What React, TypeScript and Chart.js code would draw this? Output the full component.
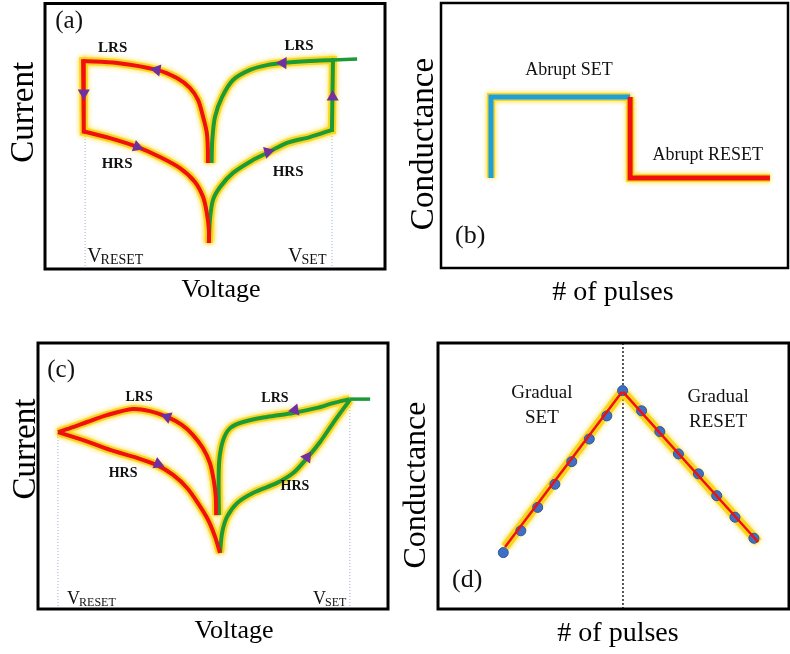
import React, { useEffect, useRef } from "react";
import { Chart, registerables } from "chart.js";

Chart.register(...registerables);

const SERIF = '"Liberation Serif", "Times New Roman", serif';

// ---------- (a) abrupt switching I–V loop (normalised voltage / current) ----------
const aLrsReset = [[47.9, 39.9], [47.9, 44.8], [47.6, 51.2], [46.5, 57.3], [45.0, 63.7], [42.6, 68.2], [38.8, 71.9], [32.9, 75.0], [21.2, 77.6], [11.2, 78.3]];
const aDropReset = [[11.2, 78.3], [11.4, 51.8]];
const aHrsReset = [[11.4, 51.8], [19.1, 49.3], [27.1, 46.0], [33.8, 42.2], [39.7, 38.0], [44.1, 32.8], [46.5, 27.1], [47.6, 21.1], [48.2, 14.7], [48.2, 9.8]];
const aLrsSet = [[49.0, 39.9], [49.2, 48.6], [50.0, 57.3], [52.1, 64.8], [55.3, 71.2], [60.3, 75.0], [65.3, 76.8], [70.0, 77.6], [77.9, 78.3], [84.7, 78.7]];
const aRiseSet = [[84.4, 52.4], [84.7, 78.7]];
const aHrsSet = [[48.2, 9.8], [48.5, 18.5], [49.4, 26.0], [51.5, 30.9], [55.3, 36.2], [61.2, 41.1], [65.3, 43.7], [71.2, 47.5], [77.9, 49.7], [84.4, 52.4]];
const aCompliance = [[84.7, 78.7], [91.8, 79.1]];
const aArrows = [[32.9, 75.0], [11.4, 66.3], [27.1, 46.0], [70.0, 77.6], [84.6, 64.8], [65.6, 44.1]];
const aArrowAngles = [-80, 180, 110, -88, 0, 195];
const aVReset = 11.8;
const aVSet = 84.4;
const aVLevel = 52.4;

// ---------- (b) abrupt conductance change vs pulse number ----------
const bSet = [[14.4, 34.0], [14.4, 64.5], [54.5, 64.5]];
const bReset = [[54.5, 64.5], [54.5, 34.0], [94.8, 34.0]];

// ---------- (c) gradual switching I–V loop ----------
const cLrsReset = [[50.9, 35.3], [50.8, 42.1], [50.2, 48.5], [49.1, 54.9], [47.1, 60.5], [44.3, 65.4], [41.1, 69.2], [36.9, 72.2], [32.0, 74.4], [27.1, 75.2], [19.7, 72.9], [14.0, 70.3], [10.0, 68.4], [5.7, 66.5]];
const cHrsReset = [[5.7, 66.5], [12.9, 63.5], [20.6, 59.8], [28.3, 56.8], [34.0, 54.1], [38.6, 50.4], [42.6, 45.5], [45.7, 39.8], [48.6, 33.5], [50.6, 27.1], [52.0, 21.1]];
const cLrsSet = [[51.7, 35.3], [51.6, 45.9], [51.8, 56.0], [52.9, 63.5], [54.9, 68.0], [58.6, 70.3], [65.4, 72.2], [72.9, 73.7], [79.7, 75.6], [84.3, 77.4], [89.1, 78.9]];
const cHrsSet = [[52.0, 21.1], [52.6, 28.6], [54.0, 34.6], [56.9, 39.8], [61.4, 43.6], [68.3, 47.4], [72.9, 51.1], [76.9, 56.8], [80.6, 62.8], [84.3, 69.9], [89.1, 78.6]];
const cCompliance = [[89.1, 78.9], [94.9, 78.9]];
const cArrows = [[36.9, 72.2], [34.3, 54.5], [73.4, 74.8], [76.9, 57.1]];
const cArrowAngles = [-70, 112, -100, 35];
const cVReset = 5.7;
const cVResetLevel = 66.5;
const cVSet = 89.1;
const cVSetLevel = 78.6;

// ---------- (d) gradual conductance change vs pulse number ----------
const dSetLine = [[19.1, 23.3], [52.4, 81.6]];
const dResetLine = [[52.7, 81.6], [91.2, 25.2]];
const dSetDots = [[18.6, 21.2], [23.6, 29.4], [28.4, 38.2], [33.3, 46.9], [38.1, 55.4], [43.1, 63.9], [48.1, 72.6], [52.6, 82.1]];
const dResetDots = [[58.0, 74.5], [63.2, 66.7], [68.5, 58.3], [74.2, 50.8], [79.4, 42.6], [84.6, 34.5], [90.0, 26.6]];
const dPeak = 52.7;

// ---------- colours ----------
const RED = "#f01010";
const GREEN = "#1c9a36";
const BLUE = "#1c9fdc";
const PURPLE = "#7030a0";
const HALO = "rgba(248,212,30,0.95)";
const GLOW = "rgba(255,214,0,0.95)";
const REF = "#9db0d6";

const pts = (a: number[][]) => a.map(([x, y]) => ({ x, y }));

function curve(data: number[][], color: string, width: number, haloWidth: number, tension: number, order: number, cap: CanvasLineCap = "butt") {
  const base = {
    data: pts(data),
    showLine: true,
    pointRadius: 0,
    tension,
    borderCapStyle: cap,
    borderJoinStyle: "miter",
    fill: false,
  };
  return [
    { ...base, borderColor: HALO, borderWidth: haloWidth, order: 20, glow: GLOW },
    { ...base, borderColor: color, borderWidth: width, order },
  ];
}

function plain(data: number[][], color: string, width: number, order: number) {
  return { data: pts(data), showLine: true, pointRadius: 0, tension: 0, borderColor: color, borderWidth: width, order };
}

function refLine(x: number, y0: number, y1: number, color: string, width: number, dash: number[]) {
  return {
    data: pts([[x, y0], [x, y1]]),
    showLine: true,
    pointRadius: 0,
    borderColor: color,
    borderWidth: width,
    borderDash: dash,
    order: 30,
  };
}

function arrows(data: number[][], angles: number[]) {
  return {
    data: pts(data),
    showLine: false,
    pointStyle: "triangle",
    pointRadius: 7,
    rotation: angles,
    backgroundColor: PURPLE,
    borderColor: PURPLE,
    borderWidth: 0,
    order: 0,
  };
}

type Note = { text: string; x: number; y: number; size: number; bold?: boolean; sub?: string; subSize?: number; align?: CanvasTextAlign };
type Title = { text: string; size: number; dx: number; dy: number };
type Panel = {
  key: string;
  left: number;
  top: number;
  width: number;
  height: number;
  pad: { left: number; top: number; right: number; bottom: number };
  frame: number;
  datasets: any[];
  notes: Note[];
  yTitle: Title;
  xTitle: Title;
};

const panels: Panel[] = [
  {
    key: "a",
    left: 0, top: 0, width: 395, height: 320,
    pad: { left: 45, top: 3.5, right: 10, bottom: 51 },
    frame: 3,
    datasets: [
      refLine(aVReset, 0, aVLevel, REF, 1, [1, 2]),
      refLine(aVSet, 0, aVLevel, REF, 1, [1, 2]),
      ...curve(aLrsSet, GREEN, 4, 8, 0.3, 3),
      ...curve(aRiseSet, GREEN, 4, 8, 0, 3, "square"),
      ...curve(aHrsSet, GREEN, 4, 8, 0.3, 3),
      plain(aCompliance, GREEN, 3.5, 3),
      ...curve(aLrsReset, RED, 4, 8, 0.3, 2),
      ...curve(aDropReset, RED, 4, 8, 0, 2, "square"),
      ...curve(aHrsReset, RED, 4, 8, 0.3, 2),
      arrows(aArrows, aArrowAngles),
    ],
    notes: [
      { text: "(a)", x: 7.1, y: 90.8, size: 25 },
      { text: "LRS", x: 19.9, y: 81.7, size: 15, bold: true },
      { text: "LRS", x: 74.7, y: 82.5, size: 15, bold: true },
      { text: "HRS", x: 21.2, y: 38.0, size: 15, bold: true },
      { text: "HRS", x: 71.5, y: 35.0, size: 15, bold: true },
      { text: "V", sub: "RESET", x: 12.4, y: 2.6, size: 20, subSize: 14 },
      { text: "V", sub: "SET", x: 71.5, y: 2.6, size: 20, subSize: 14 },
    ],
    yTitle: { text: "Current", size: 33, dx: -12, dy: -24 },
    xTitle: { text: "Voltage", size: 26, dx: 6, dy: 28 },
  },
  {
    key: "b",
    left: 395, top: 0, width: 395, height: 320,
    pad: { left: 46, top: 3, right: 2, bottom: 52 },
    frame: 2.5,
    datasets: [
      ...curve(bSet, BLUE, 5, 8, 0, 3),
      ...curve(bReset, RED, 5, 8, 0, 2),
    ],
    notes: [
      { text: "(b)", x: 8.4, y: 9.4, size: 26 },
      { text: "Abrupt SET", x: 36.9, y: 72.8, size: 18 },
      { text: "Abrupt RESET", x: 76.9, y: 40.8, size: 18 },
    ],
    yTitle: { text: "Conductance", size: 33, dx: -8, dy: 8.5 },
    xTitle: { text: "# of pulses", size: 28, dx: -1.5, dy: 32 },
  },
  {
    key: "c",
    left: 0, top: 320, width: 395, height: 334,
    pad: { left: 38, top: 23, right: 7, bottom: 45 },
    frame: 3,
    datasets: [
      refLine(cVReset, 0, cVResetLevel, REF, 1, [1, 2]),
      refLine(cVSet, 0, cVSetLevel, REF, 1, [1, 2]),
      ...curve(cLrsSet, GREEN, 4, 8, 0.3, 3),
      ...curve(cHrsSet, GREEN, 4, 8, 0.3, 3),
      plain(cCompliance, GREEN, 3.5, 3),
      ...curve(cLrsReset, RED, 4, 8, 0.3, 2),
      ...curve(cHrsReset, RED, 4, 8, 0.3, 2),
      arrows(cArrows, cArrowAngles),
    ],
    notes: [
      { text: "(c)", x: 6.6, y: 87.2, size: 25 },
      { text: "LRS", x: 28.9, y: 78.2, size: 14, bold: true },
      { text: "LRS", x: 67.7, y: 77.8, size: 14, bold: true },
      { text: "HRS", x: 24.3, y: 49.6, size: 14, bold: true },
      { text: "HRS", x: 73.4, y: 44.7, size: 14, bold: true },
      { text: "V", sub: "RESET", x: 8.3, y: 1.9, size: 18, subSize: 12 },
      { text: "V", sub: "SET", x: 78.6, y: 1.9, size: 18, subSize: 12 },
    ],
    yTitle: { text: "Current", size: 33, dx: -3, dy: -27 },
    xTitle: { text: "Voltage", size: 26, dx: 21, dy: 29 },
  },
  {
    key: "d",
    left: 395, top: 320, width: 395, height: 334,
    pad: { left: 43, top: 23, right: 1, bottom: 45 },
    frame: 3,
    datasets: [
      refLine(dPeak, 0, 100, "#222", 1.5, [2, 2]),
      {
        data: pts([...dSetDots, ...dResetDots]),
        showLine: false,
        pointStyle: "circle",
        pointRadius: 5,
        backgroundColor: "#3f6fc2",
        borderColor: "#2d56a0",
        borderWidth: 1,
        order: 10,
      },
      ...curve(dSetLine, RED, 2.5, 9, 0, 2),
      ...curve(dResetLine, RED, 2.5, 9, 0, 2),
    ],
    notes: [
      { text: "(d)", x: 8.3, y: 8.3, size: 26 },
      { text: "Gradual", x: 29.6, y: 79.3, size: 19 },
      { text: "SET", x: 29.6, y: 69.9, size: 19 },
      { text: "Gradual", x: 79.8, y: 77.8, size: 19 },
      { text: "RESET", x: 79.8, y: 68.4, size: 19 },
    ],
    yTitle: { text: "Conductance", size: 32, dx: -13, dy: 9 },
    xTitle: { text: "# of pulses", size: 28, dx: 4.5, dy: 32 },
  },
];

// soft yellow glow around the halo strokes
const glowPlugin = {
  id: "glow",
  beforeDatasetDraw(chart: any, args: any) {
    const ds = chart.data.datasets[args.index];
    if (ds.glow) {
      chart.ctx.save();
      chart.ctx.shadowColor = ds.glow;
      chart.ctx.shadowBlur = 5;
    }
  },
  afterDatasetDraw(chart: any, args: any) {
    const ds = chart.data.datasets[args.index];
    if (ds.glow) chart.ctx.restore();
  },
};

function decorPlugin(panel: Panel) {
  return {
    id: "decor" + panel.key,
    afterDraw(chart: any) {
      const { ctx, chartArea: ca, scales } = chart;
      ctx.save();
      // frame
      ctx.strokeStyle = "#000";
      ctx.lineWidth = panel.frame;
      ctx.strokeRect(ca.left, ca.top, ca.right - ca.left, ca.bottom - ca.top);

      ctx.fillStyle = "#111";
      ctx.textBaseline = "alphabetic";
      for (const n of panel.notes) {
        const px = scales.x.getPixelForValue(n.x);
        const py = scales.y.getPixelForValue(n.y);
        ctx.font = `${n.bold ? "bold " : ""}${n.size}px ${SERIF}`;
        if (n.sub) {
          ctx.textAlign = "left";
          ctx.fillText(n.text, px, py);
          const w = ctx.measureText(n.text).width;
          ctx.font = `${n.subSize}px ${SERIF}`;
          ctx.fillText(n.sub, px + w - 1, py + 2);
        } else {
          ctx.textAlign = n.align ?? "center";
          ctx.fillText(n.text, px, py);
        }
      }

      // axis titles
      const cx = (ca.left + ca.right) / 2;
      const cy = (ca.top + ca.bottom) / 2;
      ctx.fillStyle = "#000";
      ctx.textAlign = "center";
      ctx.font = `${panel.xTitle.size}px ${SERIF}`;
      ctx.fillText(panel.xTitle.text, cx + panel.xTitle.dx, ca.bottom + panel.xTitle.dy);

      ctx.translate(ca.left + panel.yTitle.dx, cy + panel.yTitle.dy);
      ctx.rotate(-Math.PI / 2);
      ctx.font = `${panel.yTitle.size}px ${SERIF}`;
      ctx.fillText(panel.yTitle.text, 0, 0);
      ctx.restore();
    },
  };
}

function PanelChart({ panel }: { panel: Panel }) {
  const ref = useRef<HTMLCanvasElement>(null);
  useEffect(() => {
    const chart = new Chart(ref.current as HTMLCanvasElement, {
      type: "scatter",
      data: { datasets: panel.datasets },
      options: {
        animation: false,
        responsive: false,
        maintainAspectRatio: false,
        devicePixelRatio: 1,
        events: [],
        layout: { padding: panel.pad, autoPadding: false },
        plugins: { legend: { display: false }, tooltip: { enabled: false } },
        scales: {
          x: { type: "linear", min: 0, max: 100, display: false },
          y: { type: "linear", min: 0, max: 100, display: false },
        },
      } as any,
      plugins: [glowPlugin, decorPlugin(panel)] as any,
    });
    return () => chart.destroy();
  }, [panel]);
  return (
    <canvas
      ref={ref}
      width={panel.width}
      height={panel.height}
      style={{ position: "absolute", left: panel.left, top: panel.top, width: panel.width, height: panel.height }}
    />
  );
}

export default function App() {
  return (
    <div style={{ position: "absolute", left: 0, top: 0, width: 790, height: 654, background: "#fff", overflow: "hidden" }}>
      {panels.map((p) => (
        <PanelChart key={p.key} panel={p} />
      ))}
    </div>
  );
}
